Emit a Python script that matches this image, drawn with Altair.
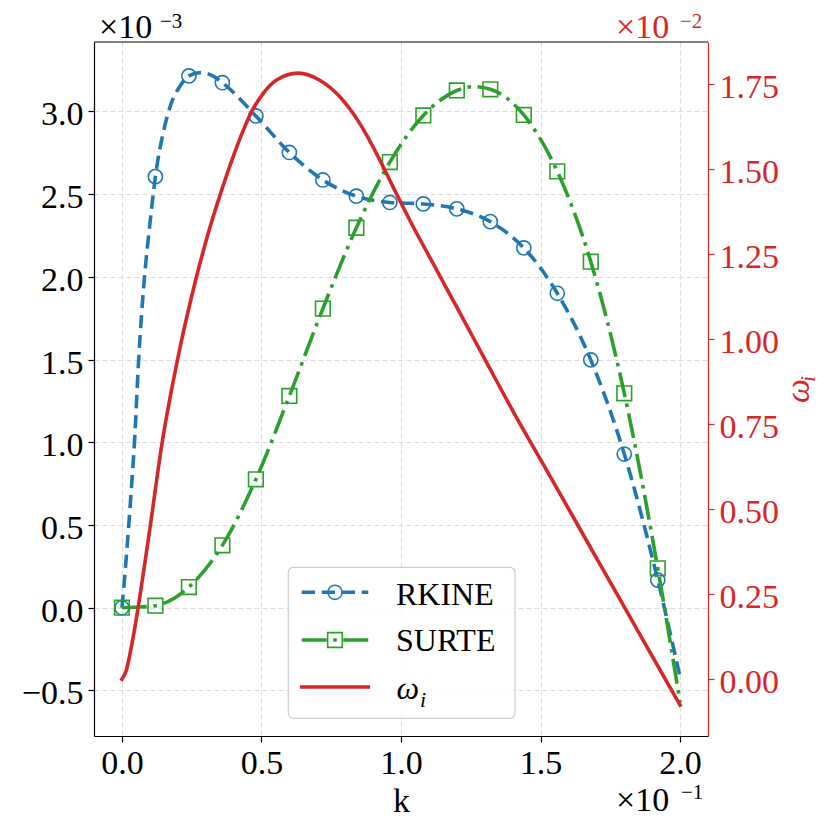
import altair as alt
import pandas as pd

# ---------------- data ----------------
# k is given in units of 1e-1, RKINE/SURTE in 1e-3, omega_i in 1e-2
K_MARKERS = [0.00, 0.12, 0.24, 0.36, 0.48, 0.60, 0.72, 0.84, 0.96, 1.08,
             1.20, 1.32, 1.44, 1.56, 1.68, 1.80, 1.92]
RKINE_MARKERS = [0.000, 2.606, 3.215, 3.174, 2.973, 2.752, 2.586, 2.488, 2.450,
                 2.441, 2.411, 2.334, 2.175, 1.901, 1.498, 0.929, 0.167]
SURTE_MARKERS = [0.000, 0.012, 0.125, 0.377, 0.776, 1.280, 1.808, 2.297, 2.694,
                 2.976, 3.127, 3.134, 2.979, 2.638, 2.092, 1.296, 0.238]

RKINE_K = [0.000, 0.006, 0.013, 0.025, 0.036, 0.045, 0.060, 0.081, 0.099, 0.120,
           0.153, 0.177, 0.207, 0.240, 0.280, 0.320, 0.360, 0.480, 0.600, 0.720,
           0.840, 0.960, 1.080, 1.200, 1.320, 1.440, 1.560, 1.680, 1.800, 1.920, 2.000]
RKINE_V = [0.000, 0.107, 0.248, 0.510, 0.770, 1.000, 1.500, 2.000, 2.300, 2.606,
           2.908, 3.050, 3.150, 3.215, 3.235, 3.220, 3.174, 2.973, 2.752, 2.586,
           2.488, 2.450, 2.441, 2.411, 2.334, 2.175, 1.901, 1.498, 0.929, 0.167, -0.420]

SURTE_K = [0.00, 0.06, 0.12, 0.24, 0.36, 0.48, 0.60, 0.72, 0.84, 0.96, 1.08,
           1.20, 1.26, 1.32, 1.44, 1.56, 1.68, 1.80, 1.92, 2.00]
SURTE_V = [0.000, 0.004, 0.012, 0.125, 0.377, 0.776, 1.280, 1.808, 2.297, 2.694, 2.976,
           3.127, 3.150, 3.134, 2.979, 2.638, 2.092, 1.296, 0.238, -0.575]

OMEGA_K = [0.000, 0.016, 0.034, 0.057, 0.081, 0.103, 0.143, 0.203, 0.263, 0.314,
           0.356, 0.392, 0.434, 0.464, 0.505, 0.553, 0.631, 0.709, 0.780, 0.852,
           0.912, 0.971, 1.031, 1.115, 1.210, 1.306, 1.401, 1.500, 1.600, 1.700,
           1.800, 1.900, 2.000]
OMEGA_V = [0.000, 0.027, 0.096, 0.205, 0.335, 0.459, 0.690, 0.955, 1.170, 1.325,
           1.435, 1.522, 1.613, 1.668, 1.722, 1.762, 1.783, 1.762, 1.714, 1.635,
           1.547, 1.449, 1.351, 1.223, 1.079, 0.933, 0.789, 0.646, 0.502, 0.357,
           0.213, 0.068, -0.076]

X_TICKS = [0.0, 0.5, 1.0, 1.5, 2.0]                      # x 1e-1
LEFT_TICKS = [-0.5, 0.0, 0.5, 1.0, 1.5, 2.0, 2.5, 3.0]    # x 1e-3
RIGHT_TICKS = [0.0, 0.25, 0.5, 0.75, 1.0, 1.25, 1.5, 1.75]  # x 1e-2

SK, SL, SR = 1e-1, 1e-3, 1e-2

df_rk = pd.DataFrame({"k": [v * SK for v in RKINE_K], "v": [v * SL for v in RKINE_V]})
df_rk_m = pd.DataFrame({"k": [v * SK for v in K_MARKERS], "v": [v * SL for v in RKINE_MARKERS]})
df_su = pd.DataFrame({"k": [v * SK for v in SURTE_K], "v": [v * SL for v in SURTE_V]})
df_su_m = pd.DataFrame({"k": [v * SK for v in K_MARKERS], "v": [v * SL for v in SURTE_MARKERS]})
df_om = pd.DataFrame({"k": [v * SK for v in OMEGA_K], "w": [v * SR for v in OMEGA_V]})

BLUE, GREEN, RED = "#1f77b4", "#2ca02c", "#d62728"
FONT = "Liberation Serif"
LW = 3.6

W, H = 614, 694

x_scale = alt.Scale(domain=[-0.01, 0.21], nice=False, zero=False)
yl_scale = alt.Scale(domain=[-0.7757e-3, 3.420e-3], nice=False, zero=False)
yr_scale = alt.Scale(domain=[-0.1668e-2, 1.8744e-2], nice=False, zero=False)

x_axis = alt.Axis(values=[v * SK for v in X_TICKS],
                  labelExpr="format(datum.value*10, '.1f')",
                  title="k", titleFont=FONT, titleFontSize=34, titleFontWeight="normal",
                  titleColor="black", titleBaseline="alphabetic", titleY=75,
                  grid=True, labelPadding=4)
yl_axis = alt.Axis(orient="left", values=[v * SL for v in LEFT_TICKS],
                   labelExpr="format(datum.value*1000, '.1f')",
                   title=None, grid=True, labelPadding=5, labelOffset=3.5)
yr_axis = alt.Axis(orient="right", values=[v * SR for v in RIGHT_TICKS],
                   labelExpr="format(datum.value*100, '.2f')",
                   title=None, grid=False, labelPadding=5, labelOffset=3.5,
                   labelColor=RED, tickColor=RED, domainColor=RED)

X = alt.X("k:Q", scale=x_scale, axis=x_axis)
YL = alt.Y("v:Q", scale=yl_scale, axis=yl_axis)

blue_line = alt.Chart(df_rk).mark_line(
    color=BLUE, strokeWidth=LW, strokeDash=[13.3, 6.7], interpolate="monotone"
).encode(x=X, y=YL)
blue_pts = alt.Chart(df_rk_m).mark_point(
    shape="circle", filled=False, size=200, stroke=BLUE, strokeWidth=1.6, opacity=1
).encode(x=X, y=YL)
green_line = alt.Chart(df_su).mark_line(
    color=GREEN, strokeWidth=LW, strokeDash=[25, 6.5, 3.6, 6.5], interpolate="monotone"
).encode(x=X, y=YL)
green_pts = alt.Chart(df_su_m).mark_point(
    shape="square", filled=False, size=215, stroke=GREEN, strokeWidth=1.6, opacity=1
).encode(x=X, y=YL)

left = alt.layer(blue_line, blue_pts, green_line, green_pts)

red_line = alt.Chart(df_om).mark_line(
    color=RED, strokeWidth=LW, interpolate="monotone", strokeCap="square"
).encode(x=X, y=alt.Y("w:Q", scale=yr_scale, axis=yr_axis))

data_layers = alt.layer(left, red_line).resolve_scale(y="independent")

one = pd.DataFrame({"a": [0]})


def txt(s, x, y, size, color="black", italic=False, angle=0, align="left"):
    kw = dict(align=align, baseline="alphabetic", font=FONT, fontSize=size, color=color)
    if italic:
        kw["fontStyle"] = "italic"
    if angle:
        kw["angle"] = angle
    return alt.Chart(pd.DataFrame({"t": [s]})).mark_text(**kw).encode(
        x=alt.value(x), y=alt.value(y), text="t:N")


# top spine
top_spine = alt.Chart(one).mark_rule(color="black", strokeWidth=1.2).encode(
    x=alt.value(0), x2=alt.value(W), y=alt.value(0))

# legend
lx0, lx1 = 207.7, 274.3
legend_box = alt.Chart(one).mark_rect(
    cornerRadius=5, fill="white", fillOpacity=0.8, stroke="#cccccc", strokeWidth=1.2
).encode(x=alt.value(194.3), x2=alt.value(421), y=alt.value(525.3), y2=alt.value(676.3))
leg_blue = alt.Chart(one).mark_rule(color=BLUE, strokeWidth=LW, strokeDash=[13.3, 6.7]).encode(
    x=alt.value(lx0), x2=alt.value(lx1), y=alt.value(550.3))
leg_blue_pt = alt.Chart(one).mark_point(
    shape="circle", filled=False, size=200, stroke=BLUE, strokeWidth=1.6, opacity=1
).encode(x=alt.value(241), y=alt.value(550.3))
leg_green = alt.Chart(one).mark_rule(color=GREEN, strokeWidth=LW, strokeDash=[25, 6.5, 3.6, 6.5]).encode(
    x=alt.value(lx0), x2=alt.value(lx1), y=alt.value(598))
leg_green_pt = alt.Chart(one).mark_point(
    shape="square", filled=False, size=215, stroke=GREEN, strokeWidth=1.6, opacity=1
).encode(x=alt.value(241), y=alt.value(598))
leg_red = alt.Chart(one).mark_rule(color=RED, strokeWidth=LW, strokeCap="square").encode(
    x=alt.value(lx0), x2=alt.value(lx1), y=alt.value(645))

leg_t1 = txt("RKINE", 302, 563, 32)
leg_t2 = txt("SURTE", 302, 609, 32)
leg_t3 = txt("ω", 302.5, 657, 32, italic=True)
leg_t3i = txt("i", 326, 664.5, 22, italic=True)

# offset (multiplier) texts
off_l = txt("×10", 5, -4, 34)
off_l_e = txt("−3", 66, -14, 21)
off_r = txt("×10", 522, -4, 34, color=RED)
off_r_e = txt("−2", 586, -14, 21, color=RED)
off_b = txt("×10", 522, 769, 34)
off_b_e = txt("−1", 587, 757, 21)

# right axis title  omega_i  (rotated)
rt_w = txt("ω", 715, 361, 34, color=RED, italic=True, angle=270)
rt_i = txt("i", 721, 340, 22, color=RED, italic=True, angle=270)

chart = alt.layer(
    data_layers, top_spine,
    legend_box, leg_blue, leg_blue_pt, leg_green, leg_green_pt, leg_red,
    leg_t1, leg_t2, leg_t3, leg_t3i,
    off_l, off_l_e, off_r, off_r_e, off_b, off_b_e,
    rt_w, rt_i,
).properties(
    width=W, height=H,
    autosize=alt.AutoSizeParams(type="none"),
    padding={"left": 86, "top": 34, "right": 114, "bottom": 86},
    background="white",
).configure_view(
    stroke=None
).configure_axis(
    labelFont=FONT, labelFontSize=34, labelColor="black",
    tickColor="black", tickSize=6, tickWidth=1.2,
    domainColor="black", domainWidth=1.2,
    gridColor="#dcdcdc", gridDash=[5, 3], gridWidth=1,
)

chart.save("out.html", embed_options={"renderer": "svg", "actions": False})
